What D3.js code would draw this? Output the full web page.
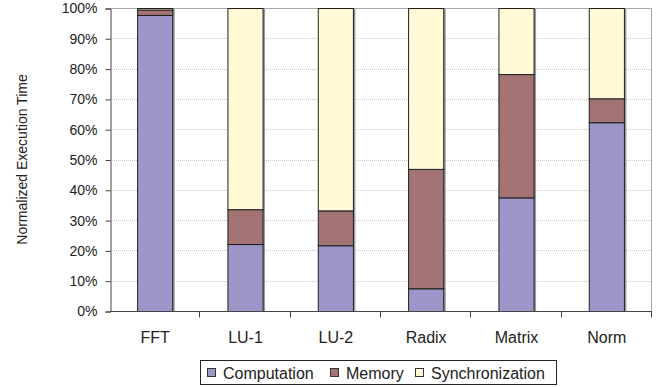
<!DOCTYPE html>
<html>
<head>
<meta charset="utf-8">
<script src="https://cdnjs.cloudflare.com/ajax/libs/d3/7.8.5/d3.min.js"></script>
<style>
  html, body { margin: 0; padding: 0; background: #fff; }
  svg text { font-family: "Liberation Sans", Arial, Helvetica, sans-serif; fill: #222; }
</style>
</head>
<body>
<svg id="chart" width="665" height="387"></svg>
<script>
// Benchmarks along the x axis
const categories = ["FFT", "LU-1", "LU-2", "Radix", "Matrix", "Norm"];
// Share of execution time (%) for each component
const computation     = [97.7, 22.1, 21.7, 7.5, 37.5, 62.3];
const memory          = [1.8, 11.5, 11.5, 39.4, 40.7, 7.9];
const synchronization = [0.5, 66.4, 66.8, 53.1, 21.8, 29.8];
const seriesNames = ["Computation", "Memory", "Synchronization"];
const seriesColors = ["#9d97c9", "#a47373", "#fffad5"];
const yTicks = [0, 10, 20, 30, 40, 50, 60, 70, 80, 90, 100];

const svg = d3.select("#chart");
const margin = { left: 110, right: 13, top: 8, bottom: 76 };
const W = 665, H = 387;
const x0 = margin.left, x1 = W - margin.right;
const y0 = H - margin.bottom, y1 = margin.top;

const x = d3.scaleBand().domain(categories).range([x0, x1]).paddingInner(0.6).paddingOuter(0.3);
const xOuter = d3.scaleBand().domain(categories).range([x0, x1]).padding(0);
const y = d3.scaleLinear().domain([0, 100]).range([y0, y1]);

// Dotted gridlines
svg.append("g").selectAll("line").data(yTicks.filter(t => t > 0 && t < 100)).join("line")
  .attr("x1", x0).attr("x2", x1)
  .attr("y1", d => Math.round(y(d)) + 0.5).attr("y2", d => Math.round(y(d)) + 0.5)
  .attr("stroke", "#c8c8c8").attr("stroke-width", 1).attr("stroke-dasharray", "1,1");

// Plot frame (top and right)
svg.append("path")
  .attr("d", `M${x0},${Math.round(y1) + 0.5}H${x1 - 0.5}V${y0}`)
  .attr("fill", "none").attr("stroke", "#a8a8a8").attr("stroke-width", 1);

// Stacked data
const rows = categories.map((c, i) => ({
  cat: c, Computation: computation[i], Memory: memory[i], Synchronization: synchronization[i]
}));
const stack = d3.stack().keys(seriesNames)(rows);

// Bar shadows
svg.append("g").selectAll("rect").data(rows).join("rect")
  .attr("x", d => x(d.cat) + 1.5).attr("y", y(100) + 1)
  .attr("width", x.bandwidth()).attr("height", y(0) - y(100) - 1)
  .attr("fill", "#9a9a9a");

// Bar segments
svg.append("g").selectAll("g").data(stack).join("g")
  .attr("fill", (d, i) => seriesColors[i])
  .selectAll("rect").data(d => d).join("rect")
  .attr("x", d => x(d.data.cat) + 0.5)
  .attr("y", d => y(d[1]) + 0.5)
  .attr("width", x.bandwidth() - 1)
  .attr("height", d => Math.max(0, y(d[0]) - y(d[1])))
  .attr("stroke", "#1e1e1e").attr("stroke-width", 1);

// Y axis
const yAxis = d3.axisLeft(y).tickValues(yTicks).tickFormat(d => d + "%").tickSize(5).tickPadding(8);
const gy = svg.append("g").attr("transform", `translate(${x0 + 0.5},0.5)`).call(yAxis);
gy.select(".domain").attr("stroke", "#444");
gy.selectAll(".tick line").attr("stroke", "#444");
gy.selectAll(".tick text").attr("font-size", "14px").attr("fill", "#222");

// X axis with ticks between categories
const gx = svg.append("g").attr("transform", `translate(0,${y0 + 0.5})`);
gx.append("line").attr("x1", x0).attr("x2", x1).attr("stroke", "#444");
gx.selectAll("line.tk").data(categories).join("line")
  .attr("class", "tk")
  .attr("x1", d => Math.round(xOuter(d) + xOuter.bandwidth()) - 0.5)
  .attr("x2", d => Math.round(xOuter(d) + xOuter.bandwidth()) - 0.5)
  .attr("y1", 0).attr("y2", 6).attr("stroke", "#444");
gx.selectAll("text").data(categories).join("text")
  .attr("x", d => x(d) + x.bandwidth() / 2)
  .attr("y", 31)
  .attr("text-anchor", "middle")
  .attr("font-size", "16px")
  .text(d => d);

// Y axis title
svg.append("text")
  .attr("transform", `translate(27,${(y0 + y1) / 2}) rotate(-90)`)
  .attr("text-anchor", "middle")
  .attr("font-size", "14px")
  .text("Normalized Execution Time");

// Legend
const lg = svg.append("g");
lg.append("rect").attr("x", 200.5).attr("y", 360.5).attr("width", 356).attr("height", 24)
  .attr("fill", "#fff").attr("stroke", "#222");
const legendX = [207, 330, 415];
seriesNames.forEach((name, i) => {
  lg.append("rect").attr("x", legendX[i] + 0.5).attr("y", 368.5).attr("width", 8).attr("height", 8)
    .attr("fill", seriesColors[i]).attr("stroke", "#333");
  lg.append("text").attr("x", legendX[i] + 16).attr("y", 378.5)
    .attr("font-size", "16px").text(name);
});
</script>
</body>
</html>
